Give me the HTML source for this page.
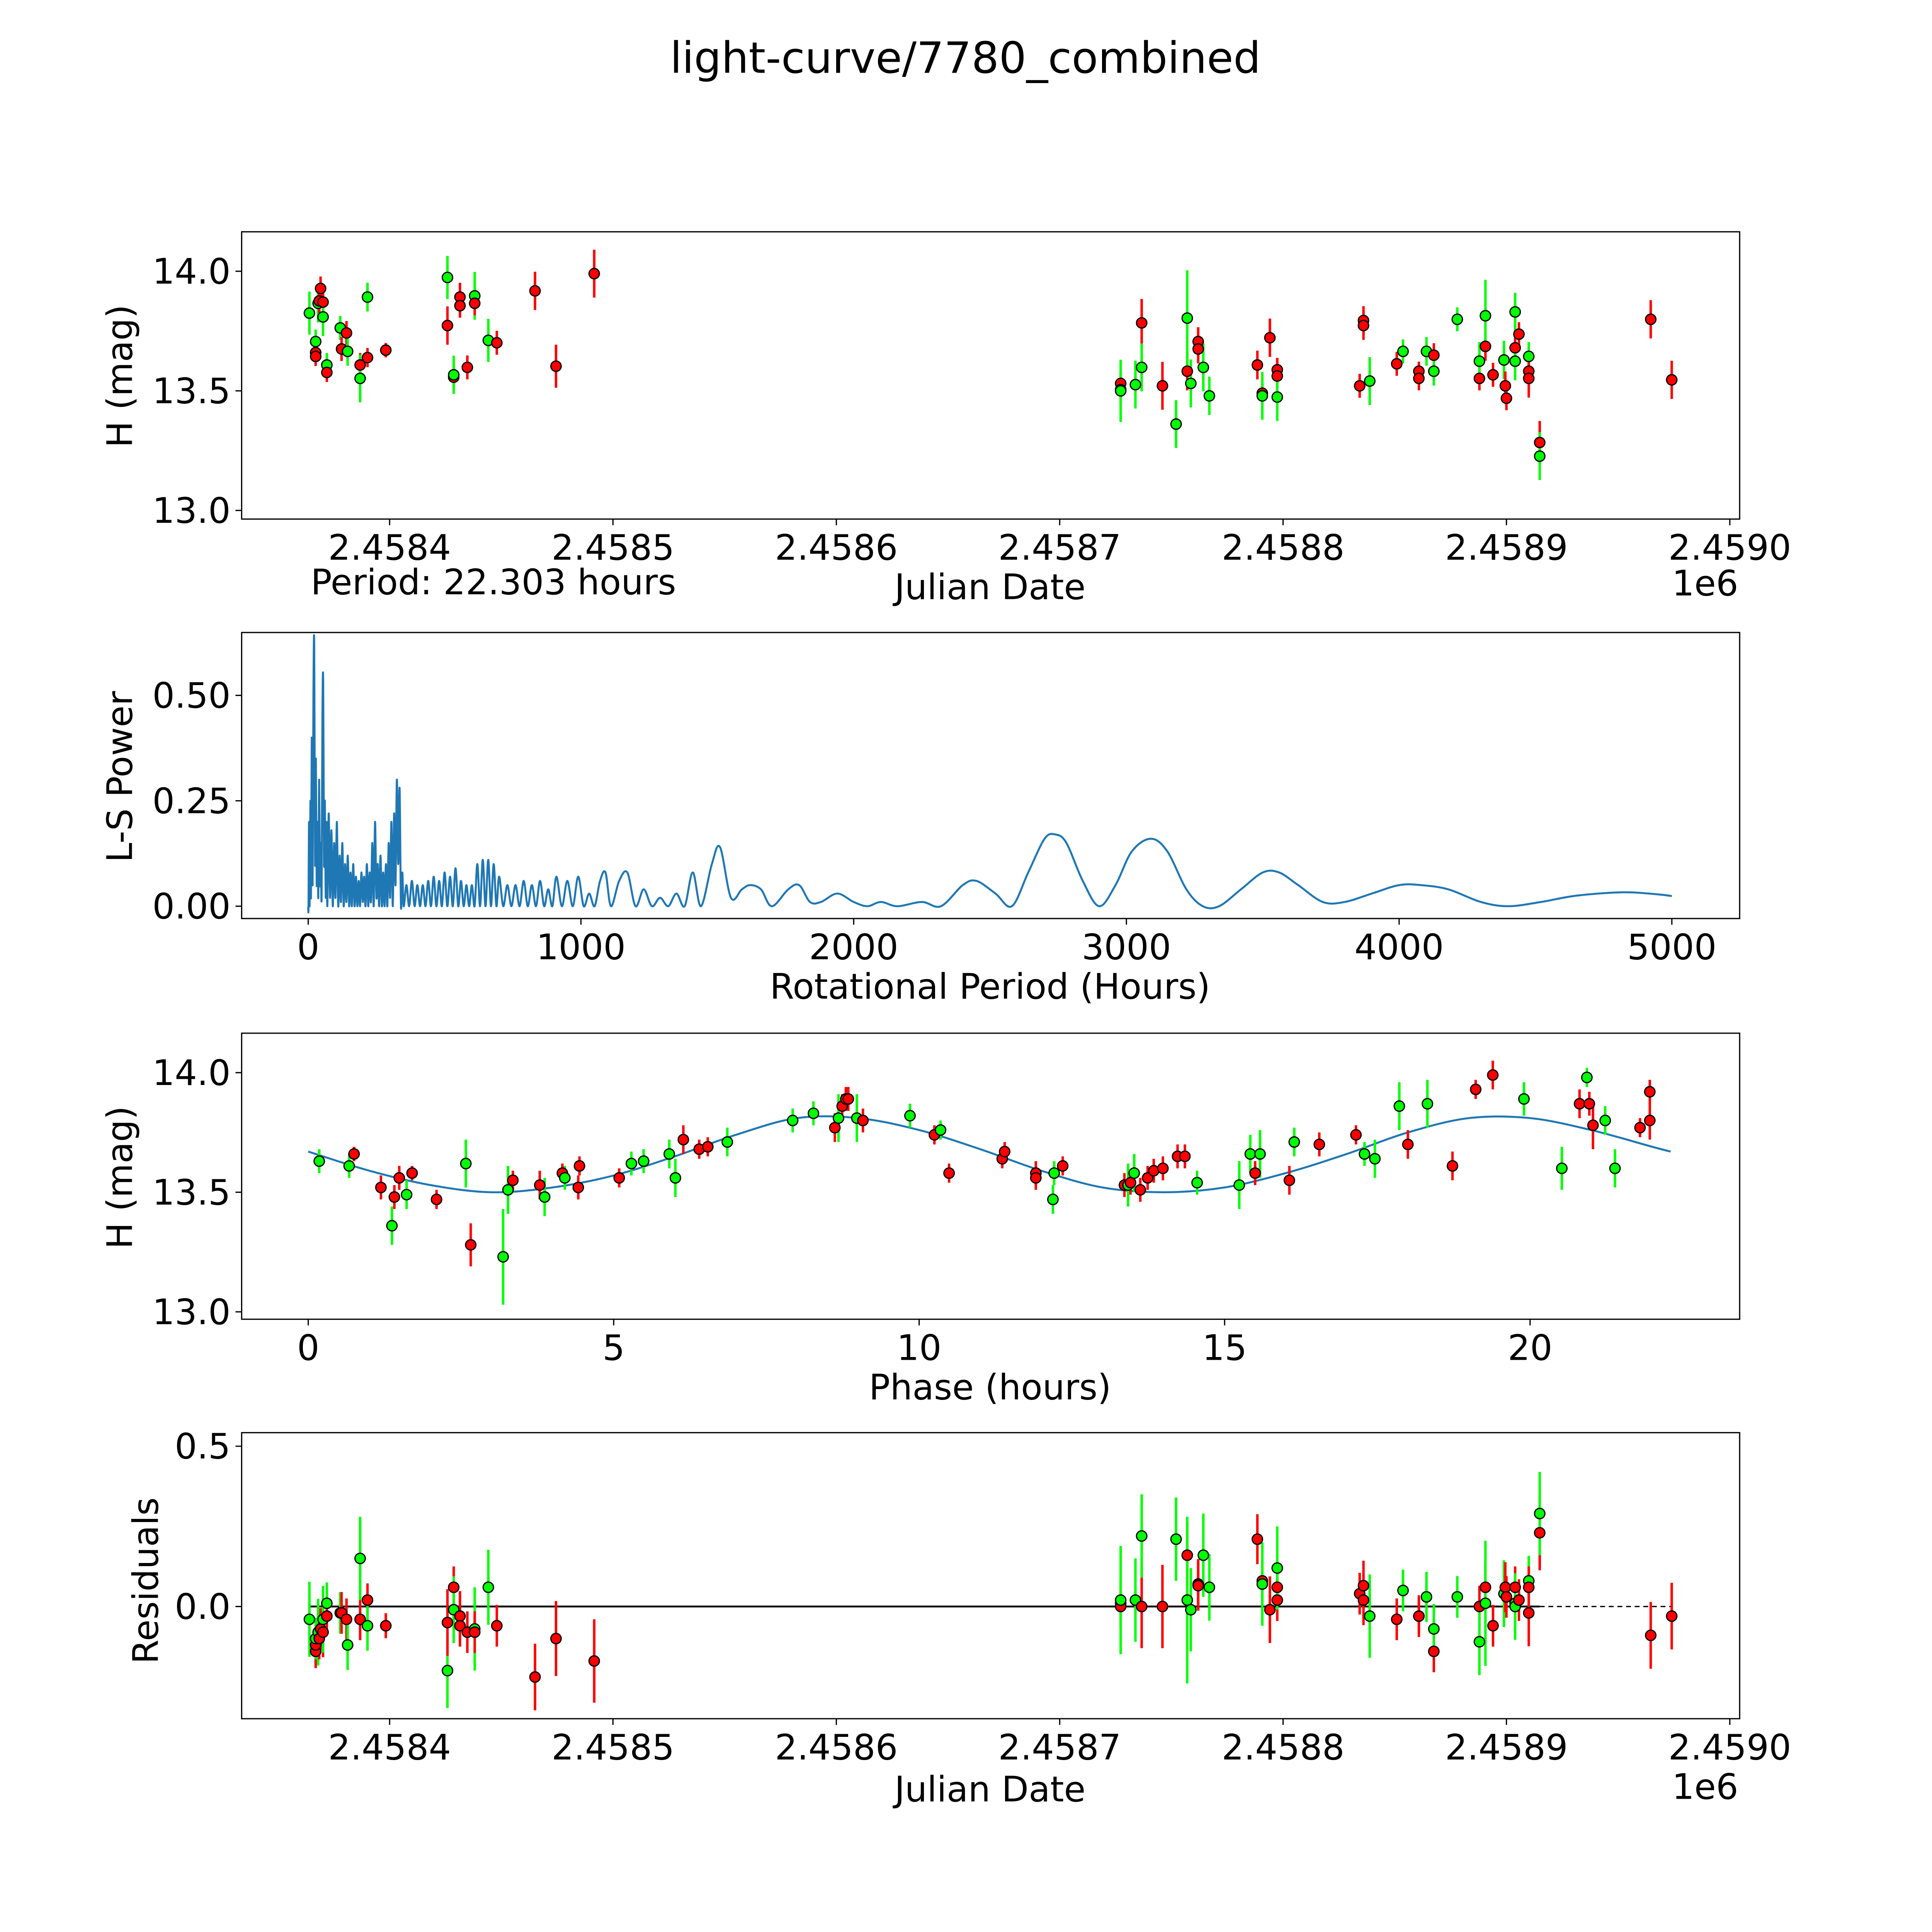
<!DOCTYPE html>
<html><head><meta charset="utf-8"><style>
html,body{margin:0;padding:0;background:#fff;width:100%;height:100%;overflow:hidden;}
svg{display:block;width:100vw;height:100vh;font-family:"DejaVu Sans","Liberation Sans",sans-serif;}
</style></head><body>
<svg id="chart" viewBox="0 0 1567 1567" preserveAspectRatio="none" xmlns="http://www.w3.org/2000/svg">
<rect width="1567" height="1567" fill="#fff"/>
<text x="783" y="59" font-size="35" text-anchor="middle">light-curve/7780_combined</text>
</svg>
<script>
// ---- Panel 1 / 4 data (observations) ----
const obsJD = [2458364.1,2458366.9,2458366.9,2458366.9,2458368.0,2458368.5,2458369.1,2458370.2,2458370.2,2458371.9,2458371.9,2458377.9,2458378.5,2458380.7,2458381.2,2458386.8,2458386.8,2458390.1,2458390.1,2458398.3,2458425.9,2458425.9,2458428.7,2458428.7,2458431.5,2458431.5,2458434.8,2458438.1,2458438.1,2458444.2,2458448.0,2458465.1,2458474.5,2458491.6,
2458727.3,2458727.3,2458727.3,2458733.9,2458736.7,2458736.7,2458746.0,2458752.1,2458757.1,2458757.1,2458758.7,2458762.0,2458762.0,2458764.3,2458767.0,2458788.5,2458790.7,2458790.7,2458794.1,2458797.4,2458797.4,2458797.4,2458834.3,2458836.0,2458836.0,2458838.8,2458850.9,2458853.7,2458860.8,2458860.8,2458864.2,2458867.5,2458867.5,2458878.0,2458887.9,2458887.9,2458890.6,2458890.6,2458894.0,2458898.9,2458899.5,2458900.0,2458903.9,2458903.9,2458903.9,2458905.6,2458910.0,2458910.0,2458910.0,2458914.9,2458914.9,2458964.6,2458974.0];
const obsMag = [13.825,13.66,13.644,13.706,13.866,13.876,13.928,13.871,13.809,13.608,13.577,13.763,13.675,13.742,13.665,13.608,13.552,13.639,13.892,13.67,13.974,13.773,13.557,13.567,13.892,13.856,13.598,13.897,13.866,13.711,13.701,13.918,13.603,13.99,
13.531,13.505,13.5,13.526,13.784,13.598,13.521,13.361,13.582,13.804,13.531,13.706,13.675,13.598,13.479,13.608,13.49,13.479,13.722,13.588,13.562,13.474,13.521,13.794,13.773,13.541,13.613,13.665,13.582,13.552,13.665,13.649,13.582,13.799,13.552,13.624,13.686,13.814,13.567,13.629,13.521,13.469,13.83,13.68,13.624,13.737,13.644,13.582,13.552,13.284,13.227,13.799,13.546];
const obsErr = [0.09,0.04,0.04,0.05,0.08,0.05,0.05,0.06,0.08,0.05,0.04,0.05,0.05,0.05,0.06,0.05,0.1,0.04,0.06,0.03,0.09,0.08,0.05,0.08,0.06,0.05,0.05,0.1,0.05,0.09,0.05,0.08,0.09,0.1,
0.05,0.05,0.13,0.1,0.1,0.1,0.1,0.1,0.08,0.2,0.1,0.06,0.06,0.1,0.08,0.06,0.05,0.1,0.08,0.05,0.05,0.1,0.05,0.06,0.06,0.1,0.05,0.05,0.04,0.05,0.06,0.05,0.06,0.05,0.05,0.08,0.06,0.15,0.05,0.08,0.06,0.05,0.08,0.05,0.08,0.05,0.06,0.05,0.08,0.09,0.1,0.08,0.08];
const obsColor = ["g","r","r","g","g","r","r","r","g","g","r","g","r","r","g","r","g","r","g","r","g","r","r","g","r","r","r","g","r","g","r","r","r","r",
"r","r","g","g","r","g","r","g","r","g","g","r","r","g","g","r","r","g","r","r","r","g","r","r","r","g","r","g","r","r","g","r","g","g","r","g","r","g","r","g","r","r","g","r","g","r","g","r","r","r","g","r","r"];
const residVal = [-0.04,-0.14,-0.12,-0.10,-0.08,-0.10,-0.07,-0.08,-0.04,0.01,-0.03,-0.02,-0.02,-0.04,-0.12,-0.04,0.15,0.02,-0.06,-0.06,-0.20,-0.05,0.06,-0.01,-0.03,-0.06,-0.08,-0.07,-0.08,0.06,-0.06,-0.22,-0.10,-0.17,
0.01,0.00,0.02,0.02,0.00,0.22,0.00,0.21,0.16,0.02,-0.01,0.07,0.065,0.16,0.06,0.21,0.08,0.07,-0.01,0.06,0.02,0.12,0.04,0.065,0.02,-0.03,-0.04,0.05,-0.03,-0.03,0.03,-0.14,-0.07,0.03,0.00,-0.11,0.06,0.01,-0.06,0.04,0.06,0.03,0.01,0.06,0.00,0.02,0.08,0.06,-0.02,0.23,0.29,-0.09,-0.03];

// ---- Panel 2 data (periodogram) ----
const lsPeriod = [0,1,3,5,8,10,13,16,19,22,25,28,31,34,37,40,43,46,49,52,55,58,61,64,67,70,75,80,85,90,95,100,105,110,115,120,125,130,135,140,145,150,155,160,165,170,175,180,185,190,195,200,205,210,215,220,225,230,235,240,245,250,255,260,265,270,275,280,285,290,295,300,305,310,315,320,325,330,335,340,345,350,360,370,380,390,400,410,420,430,440,450,460,470,480,490,500,510,520,530,540,550,560,570,580,590,600,610,620,630,640,650,660,670,680,690,700,715,730,745,760,775,790,805,820,835,850,865,880,895,910,930,950,970,990,1010,1030,1050,1070,1090,1110,1140,1170,1200,1230,1260,1290,1320,1350,1380,1410,1440,1480,1510,1550,1590,1620,1660,1700,1760,1800,1840,1880,1940,2000,2050,2100,2160,2250,2320,2400,2450,2520,2580,2640,2700,2740,2780,2840,2900,2960,3020,3090,3150,3220,3280,3340,3420,3500,3560,3630,3720,3800,3900,4000,4080,4180,4300,4400,4520,4650,4820,4950,5000];
const lsPower = [0,0,0.2,0,0.25,0.02,0.4,0.05,0.5,0.62,0.1,0.35,0.05,0.2,0.02,0.3,0.05,0.15,0.02,0.45,0.53,0.1,0.25,0.02,0.2,0,0.22,0.02,0.18,0,0.15,0.02,0.2,0,0.12,0.01,0.15,0,0.1,0.01,0.12,0,0.08,0,0.1,0,0.07,0,0.06,0,0.08,0.01,0.07,0,0.1,0,0.08,0.01,0.15,0,0.2,0.02,0.1,0,0.12,0,0.08,0,0.1,0,0.15,0.02,0.2,0,0.22,0.05,0.30,0.1,0.28,0,0.08,0,0.05,0,0.06,0,0.05,0,0.05,0,0.06,0,0.07,0,0.06,0,0.08,0,0.07,0,0.09,0,0.06,0,0.05,0,0.05,0,0.1,0,0.11,0,0.11,0,0.1,0,0.07,0,0.05,0,0.05,0,0.06,0,0.05,0,0.06,0,0.04,0,0.07,0,0.06,0,0.07,0,0.03,0,0.06,0.08,0,0.06,0.08,0,0.04,0,0.02,0,0.03,0,0.08,0,0.1,0.14,0.02,0.04,0.05,0.04,0,0.04,0.05,0.01,0.01,0.03,0.01,0,0.01,0,0.01,0,0.05,0.06,0.03,0,0.08,0.16,0.17,0.15,0.06,0,0.05,0.13,0.16,0.13,0.04,0,0,0.04,0.08,0.08,0.05,0.01,0.01,0.03,0.05,0.05,0.04,0.01,0,0.01,0.025,0.033,0.028,0.024];

// ---- Panel 3 data (phased) ----
const phHours = [0.18,0.67,0.75,1.19,1.37,1.41,1.49,1.61,1.70,2.10,2.58,2.66,3.19,3.27,3.35,3.79,3.87,4.16,4.20,4.42,4.44,5.09,5.29,5.49,5.91,6.01,6.14,6.40,6.54,6.86,7.93,8.27,8.62,8.68,8.74,8.80,8.84,8.98,9.08,9.85,10.25,10.35,10.49,11.36,11.40,11.91,11.91,12.19,12.21,12.35,13.36,13.42,13.46,13.52,13.62,13.74,13.84,13.99,14.23,14.35,14.55,15.24,15.42,15.50,15.58,16.06,16.14,16.55,17.15,17.29,17.46,17.86,18.00,18.32,18.73,19.11,19.39,19.90,20.52,20.81,20.93,20.97,21.03,21.23,21.39,21.80,21.96,21.96];
const phMag = [13.63,13.61,13.66,13.52,13.36,13.48,13.56,13.49,13.58,13.47,13.62,13.28,13.23,13.51,13.55,13.53,13.48,13.58,13.56,13.52,13.61,13.56,13.62,13.63,13.66,13.56,13.72,13.68,13.69,13.71,13.80,13.83,13.77,13.81,13.86,13.89,13.89,13.81,13.80,13.82,13.74,13.76,13.58,13.64,13.67,13.58,13.56,13.47,13.58,13.61,13.53,13.53,13.54,13.58,13.51,13.56,13.59,13.60,13.65,13.65,13.54,13.53,13.66,13.58,13.66,13.55,13.71,13.70,13.74,13.66,13.64,13.86,13.70,13.87,13.61,13.93,13.99,13.89,13.60,13.87,13.98,13.87,13.78,13.80,13.60,13.77,13.80,13.92];
const phErr = [0.05,0.05,0.03,0.05,0.08,0.05,0.05,0.06,0.03,0.04,0.1,0.09,0.2,0.1,0.04,0.06,0.08,0.04,0.05,0.05,0.04,0.04,0.05,0.05,0.06,0.08,0.06,0.04,0.04,0.06,0.05,0.05,0.06,0.1,0.05,0.05,0.05,0.1,0.05,0.05,0.04,0.04,0.04,0.04,0.04,0.05,0.05,0.06,0.05,0.04,0.05,0.09,0.05,0.08,0.05,0.05,0.05,0.05,0.05,0.05,0.05,0.1,0.08,0.05,0.1,0.06,0.06,0.05,0.04,0.05,0.08,0.1,0.06,0.1,0.06,0.04,0.06,0.07,0.09,0.06,0.04,0.05,0.1,0.06,0.08,0.04,0.08,0.05];
const phColor = ["g","g","r","r","g","r","r","g","r","r","g","r","g","g","r","r","g","r","g","r","r","r","g","g","g","g","r","r","r","g","g","g","r","g","r","r","r","g","r","g","r","g","r","r","r","r","r","g","g","r","r","g","r","g","r","r","r","r","r","r","g","g","g","r","g","r","g","r","r","g","g","g","r","g","r","r","r","g","g","r","g","r","r","g","g","r","r","r"];
const modelPhase = [0,1,2,3,4,5,6,7,8,9,10,11,12,13,14,15,16,17,18,19,20,21,22,22.3];
const modelMag = [13.67,13.59,13.53,13.50,13.52,13.57,13.65,13.74,13.81,13.81,13.76,13.68,13.59,13.52,13.50,13.52,13.58,13.66,13.75,13.81,13.81,13.76,13.69,13.67];

// tick labels
const jdTicks = [2458400,2458500,2458600,2458700,2458800,2458900,2459000];
const jdTickLabels = ["2.4584","2.4585","2.4586","2.4587","2.4588","2.4589","2.4590"];
const magTicks = [13.0,13.5,14.0];
const magTickLabels = ["13.0","13.5","14.0"];
const lsXTicks = [0,1000,2000,3000,4000,5000];
const lsYTicks = [0,0.25,0.5];
const lsYTickLabels = ["0.00","0.25","0.50"];
const phXTicks = [0,5,10,15,20];
const resTicks = [0,0.5];
const resTickLabels = ["0.0","0.5"];

const NS="http://www.w3.org/2000/svg";
const svg=document.getElementById('chart');
function mk(tag,attrs,parent){const e=document.createElementNS(NS,tag);for(const k in attrs)e.setAttribute(k,attrs[k]);(parent||svg).appendChild(e);return e;}
function lin(d0,d1,r0,r1){return v=>r0+(v-d0)*(r1-r0)/(d1-d0);}
const GREEN="#00ff00",RED="#ff0000";
const FS=28.5;

const L=196,R=1411;
const xJD=lin(2458400,2459000,316,1403);
function frame(g,top,bot){mk('rect',{x:L,y:top,width:R-L,height:bot-top,fill:'none',stroke:'#000','stroke-width':1},g);}
function xticks(g,bot,vals,labels,sx){vals.forEach((v,i)=>{const x=sx(v);mk('line',{x1:x,y1:bot,x2:x,y2:bot+5,stroke:'#000'},g);const t=mk('text',{x:x,y:bot+33,'font-size':FS,'text-anchor':'middle'},g);t.textContent=labels[i];

});}
function yticks(g,vals,labels,sy){vals.forEach((v,i)=>{const y=sy(v);mk('line',{x1:L,y1:y,x2:L-5,y2:y,stroke:'#000'},g);const t=mk('text',{x:L-9,y:y+10,'font-size':FS,'text-anchor':'end'},g);t.textContent=labels[i];

});}
function label(g,txt,x,y,rot,name){const t=mk('text',{x:x,y:y,'font-size':FS,'text-anchor':'middle'},g);if(rot)t.setAttribute('transform',`rotate(-90 ${x} ${y})`);t.textContent=txt;

return t;}
function points(g,xs,ys,errs,cols,sx,sy){
  xs.forEach((v,i)=>{const x=sx(v),c=cols[i]==='g'?GREEN:RED;const l=mk('line',{x1:x,x2:x,y1:sy(ys[i]-errs[i]),y2:sy(ys[i]+errs[i]),stroke:c,'stroke-width':2},g);
  
  });
  xs.forEach((v,i)=>{const c=mk('circle',{cx:sx(v),cy:sy(ys[i]),r:4.2,fill:cols[i]==='g'?GREEN:RED,stroke:'#000','stroke-width':1},g);
  
  });
}
function smoothPath(xs,ys,sx,sy){const P=xs.map((v,i)=>[sx(v),sy(ys[i])]);let d=`M${P[0][0]},${P[0][1]}`;
  for(let i=0;i<P.length-1;i++){const p0=P[Math.max(0,i-1)],p1=P[i],p2=P[i+1],p3=P[Math.min(P.length-1,i+2)];
  d+=` C${p1[0]+(p2[0]-p0[0])/6},${p1[1]+(p2[1]-p0[1])/6} ${p2[0]-(p3[0]-p1[0])/6},${p2[1]-(p3[1]-p1[1])/6} ${p2[0]},${p2[1]}`;}return d;}

// Panel 1
{const g=mk('g',{});
const top=188,bot=421;const sy=lin(13,14,414,220);frame(g,top,bot);
xticks(g,bot,jdTicks,jdTickLabels,xJD);yticks(g,magTicks,magTickLabels,sy);
points(g,obsJD,obsMag,obsErr,obsColor,xJD,sy);
label(g,'H (mag)',107,305,true,'y-axis-title');label(g,'Julian Date',803,486,false,'x-axis-title');
label(g,'1e6',1383,483,false,'x-axis-offset');
const p=label(g,'Period: 22.303 hours',252,482,false,'period-label');p.setAttribute('text-anchor','start');}

// Panel 2
{const g=mk('g',{});
const top=513,bot=745;const sx=lin(0,5000,250,1356),sy=lin(0,0.5,735,564);frame(g,top,bot);
xticks(g,bot,lsXTicks,lsXTicks.map(String),sx);yticks(g,lsYTicks,lsYTickLabels,sy);
const pth=mk('path',{d:smoothPath(lsPeriod,lsPower,sx,sy),fill:'none',stroke:'#1f77b4','stroke-width':1.6},g);

label(g,'L-S Power',107,630,true,'y-axis-title');label(g,'Rotational Period (Hours)',803,810,false,'x-axis-title');}

// Panel 3
{const g=mk('g',{});
const top=838,bot=1070;const sx=lin(0,20,250,1241),sy=lin(13,14,1064,870);frame(g,top,bot);
xticks(g,bot,phXTicks,phXTicks.map(String),sx);yticks(g,magTicks,magTickLabels,sy);
const pth=mk('path',{d:smoothPath(modelPhase,modelMag,sx,sy),fill:'none',stroke:'#1f77b4','stroke-width':1.6},g);

points(g,phHours,phMag,phErr,phColor,sx,sy);
label(g,'H (mag)',107,955,true,'y-axis-title');label(g,'Phase (hours)',803,1135,false,'x-axis-title');}

// Panel 4
{const g=mk('g',{});
const top=1162,bot=1394;const sy=lin(0,0.5,1303,1173);frame(g,top,bot);
xticks(g,bot,jdTicks,jdTickLabels,xJD);yticks(g,resTicks,resTickLabels,sy);
const lastObs=obsJD[obsJD.length-3],firstObs=obsJD[0],endObs=obsJD[obsJD.length-1];
const z1=mk('line',{x1:xJD(firstObs),x2:xJD(lastObs),y1:sy(0),y2:sy(0),stroke:'#000','stroke-width':1.5},g);

const z2=mk('line',{x1:xJD(lastObs),x2:xJD(endObs),y1:sy(0),y2:sy(0),stroke:'#000','stroke-width':1,'stroke-dasharray':'4,3'},g);

const rErr=obsErr.map(e=>e*1.3);
points(g,obsJD,residVal,rErr,obsColor,xJD,sy);
label(g,'Residuals',128,1282,true,'y-axis-title');label(g,'Julian Date',803,1461,false,'x-axis-title');
label(g,'1e6',1383,1459,false,'x-axis-offset');}
</script>
</body></html>
